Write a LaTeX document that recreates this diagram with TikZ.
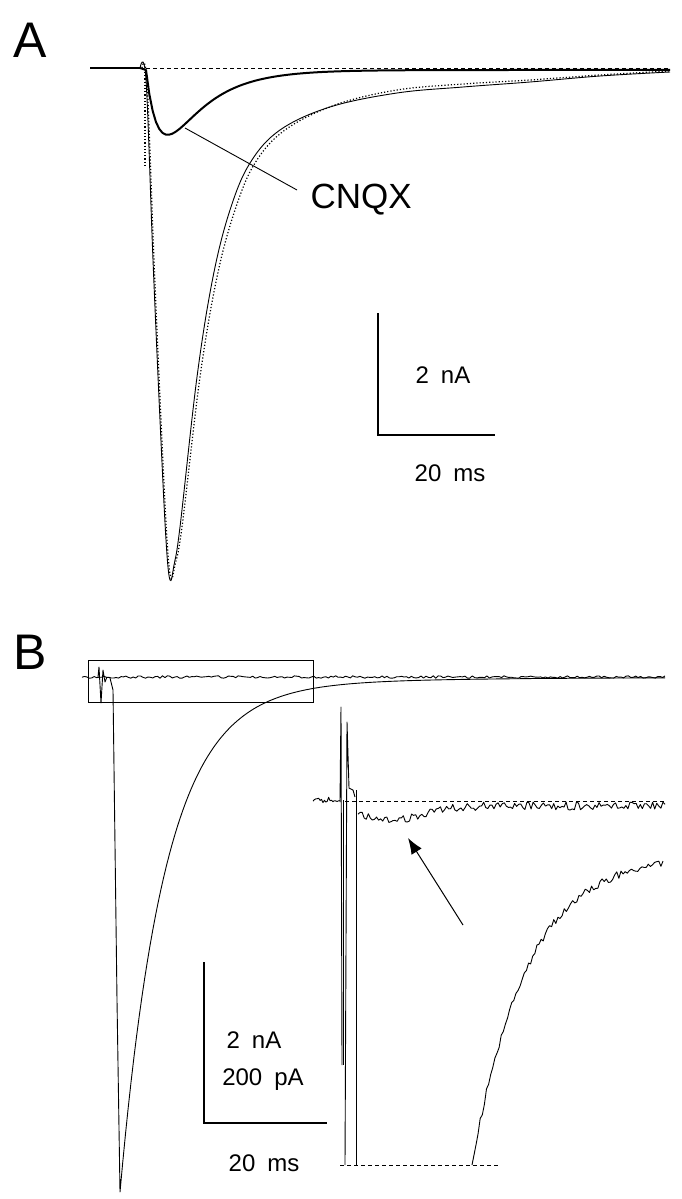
\documentclass[tikz,border=0pt]{standalone}
\usepackage{fontspec}
\setmainfont{Liberation Sans}
\usetikzlibrary{arrows.meta}
\tikzset{every picture/.style={line width=1pt}}
\tikzset{
  trace/.style={line width=0.9pt, line join=round},
  thicktrace/.style={line width=2pt, line join=round},
  dottrace/.style={line width=1.2pt, dotted},
  baseline/.style={line width=0.9pt, dash pattern=on 4pt off 3pt},
  panel/.style={inner sep=0pt, anchor=center, font=\fontsize{50}{50}\selectfont},
  barlabel/.style={inner sep=0pt, anchor=center, font=\fontsize{24}{24}\selectfont}
}
\newcommand{\gap}{\hspace{0.5em}}
\begin{document}
\begin{tikzpicture}[x=1pt,y=1pt,yscale=-1,xscale=1]
\pgfmathsetseed{7}
\useasboundingbox (0,0) rectangle (681,1199);

% Panel A
\node[panel] (labA) at (30,40) {A};
\draw[baseline] (90,68) -- (670,68);
\draw[thicktrace] (90,68) -- (140,68);
% control trace
\draw[trace] plot[smooth, tension=0.6] coordinates {(140,68) (146,80) (153,260) (160,420) (166,540) (170,580) (174,565) (180,527) (197,377) (213,277) (230,210) (250,163) (280,130) (330,107) (397,93) (463,87) (530,82) (600,76) (670,72)};
% washout trace (dotted)
\draw[dottrace] (145,72) -- (145,165);
\draw[dottrace] plot[smooth, tension=0.6] coordinates {(142,68) (147,82) (154,260) (161,420) (167,540) (171,578) (175,565) (182,527) (200,377) (217,277) (235,210) (255,163) (285,130) (335,105) (397,90) (463,84) (530,80) (600,75) (670,71)};
% CNQX trace
\draw[thicktrace] (140,68) -- (146,70) -- plot[domain=146:670, samples=160] (\x,{68+165*(exp(-(\x-146)/40)-exp(-(\x-146)/13))+2});
\coordinate (cnqxtip) at (185,128);
\node[inner sep=0pt, anchor=west, font=\fontsize{35}{35}\selectfont] (cnqx) at (310,200) {CNQX};
\draw[line width=0.9pt] (cnqxtip) -- (297,190);
% scale bar A
\draw[line width=1.3pt] (378,313) -- (378,435) -- (495,435);
\node[barlabel] (ampA) at (443,375) {2\gap nA};
\node[barlabel] (timeA) at (450,473) {20\gap ms};

% Panel B
\node[panel] (labB) at (30,652) {B};
\node[draw, line width=0.9pt, minimum width=225pt, minimum height=42pt, inner sep=0pt] (zoombox) at (200.5,681) {};
\draw[trace] plot[domain=82:665, samples=240] (\x,{677+1.2*rand});
\draw[trace] (98,677) -- (99,667) -- (101,703) -- (103,670) -- (105,682) -- (107,677);
\draw[trace] (110,678) -- (113,690) -- (117,1000) -- plot[domain=120:665, samples=200] (\x,{677+503*exp(-(\x-120)/45)+12*exp(-(\x-120)/200)});

% inset
\draw[baseline] (345,801) -- (665,801);
\draw[baseline] (340,1165) -- (500,1165);
\draw[trace] plot[domain=313:340, samples=20] (\x,{800+3*rand});
\draw[trace] (340,802) -- (341,707) -- (342,1065);
\draw[trace] (343,1065) -- (343,800);
\draw[trace] (345,1165) -- (347,722) -- (349,788) -- (353,790) -- (355,797);
\draw[trace] (356,790) -- (356,1165);
\draw[trace] plot[domain=358:665, samples=150] (\x,{806+14*exp(-((\x-390)/45)^2)+4*rand});
\draw[trace] (472,1165) -- plot[domain=476:663, samples=90] (\x,{1165-312*(1-exp(-(\x-472)/55))+4*rand});
% arrow
\coordinate (arrtail) at (463,925);
\coordinate (arrhead) at (408,838);
\draw[line width=1pt, -{Latex[length=16pt,width=12pt]}] (arrtail) -- (arrhead);

% scale bar B
\draw[line width=1.3pt] (204,962) -- (204,1123) -- (327,1123);
\node[barlabel] (ampB) at (254,1040) {2\gap nA};
\node[barlabel] (ampBb) at (263,1080) {200\gap pA};
\node[barlabel] (timeB) at (264,1163) {20\gap ms};
\end{tikzpicture}
\end{document}
